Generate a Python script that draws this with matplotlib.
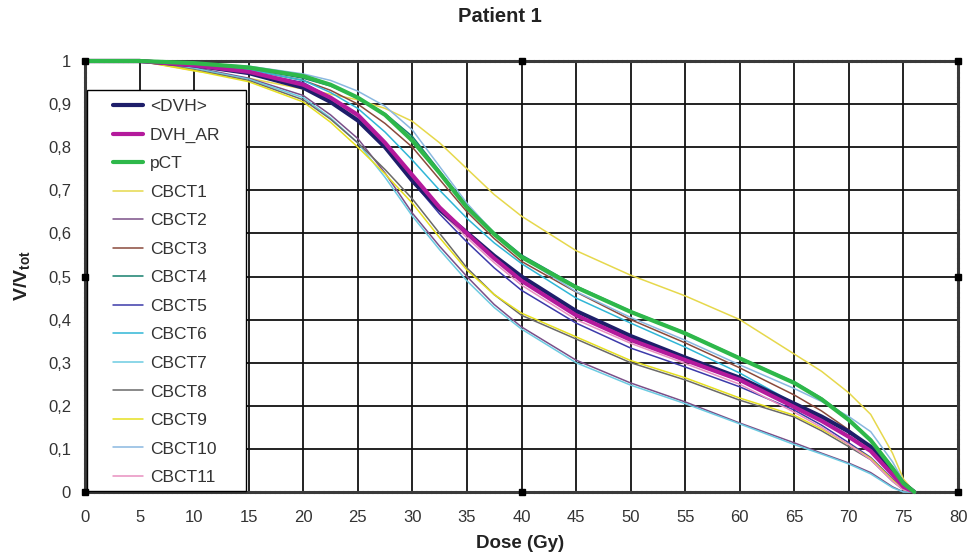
import matplotlib
matplotlib.use("Agg")
import matplotlib.pyplot as plt
from matplotlib.patches import Rectangle

plt.rcParams['font.family'] = ['Liberation Sans', 'DejaVu Sans']
plt.rcParams['mathtext.fontset'] = 'custom'
plt.rcParams['mathtext.bf'] = 'Liberation Sans:bold'
plt.rcParams['mathtext.rm'] = 'Liberation Sans'

dose = [0, 5, 10, 15, 20, 22.5, 25, 27.5, 30, 32.5, 35, 37.5, 40, 45, 50, 55,
        60, 65, 67.5, 70, 72, 74, 75, 76]

series_names = ['<DVH>', 'DVH_AR', 'pCT', 'CBCT1', 'CBCT2', 'CBCT3', 'CBCT4',
                'CBCT5', 'CBCT6', 'CBCT7', 'CBCT8', 'CBCT9', 'CBCT10', 'CBCT11']

dvh_mean = [1, 1, 0.990, 0.972, 0.938, 0.905, 0.862, 0.800, 0.722, 0.655, 0.602, 0.548, 0.500, 0.420, 0.362, 0.312, 0.265, 0.205, 0.175, 0.140, 0.105, 0.050, 0.020, 0]
dvh_ar   = [1, 1, 0.990, 0.975, 0.945, 0.915, 0.875, 0.810, 0.735, 0.660, 0.600, 0.542, 0.490, 0.410, 0.353, 0.306, 0.260, 0.197, 0.165, 0.128, 0.095, 0.040, 0.012, 0]
pct      = [1, 1, 0.995, 0.985, 0.965, 0.945, 0.915, 0.875, 0.815, 0.740, 0.660, 0.598, 0.545, 0.475, 0.418, 0.368, 0.310, 0.253, 0.215, 0.167, 0.120, 0.055, 0.020, 0]
cbct1    = [1, 1, 0.977, 0.960, 0.935, 0.923, 0.910, 0.890, 0.860, 0.810, 0.750, 0.690, 0.640, 0.560, 0.503, 0.455, 0.400, 0.320, 0.280, 0.230, 0.180, 0.090, 0.030, 0]
cbct2    = [1, 1, 0.985, 0.960, 0.920, 0.875, 0.820, 0.740, 0.647, 0.570, 0.500, 0.435, 0.383, 0.306, 0.253, 0.209, 0.160, 0.114, 0.090, 0.067, 0.045, 0.012, 0, 0]
cbct3    = [1, 1, 0.990, 0.980, 0.955, 0.932, 0.900, 0.855, 0.800, 0.725, 0.650, 0.588, 0.535, 0.464, 0.400, 0.346, 0.288, 0.225, 0.188, 0.144, 0.100, 0.040, 0.012, 0]
cbct4    = [1, 1, 0.993, 0.983, 0.960, 0.942, 0.915, 0.878, 0.825, 0.745, 0.665, 0.602, 0.550, 0.478, 0.420, 0.370, 0.312, 0.255, 0.218, 0.170, 0.122, 0.058, 0.020, 0]
cbct5    = [1, 1, 0.990, 0.975, 0.950, 0.915, 0.870, 0.800, 0.720, 0.645, 0.580, 0.520, 0.468, 0.392, 0.334, 0.290, 0.244, 0.190, 0.155, 0.114, 0.080, 0.030, 0.008, 0]
cbct6    = [1, 1, 0.990, 0.980, 0.955, 0.927, 0.890, 0.835, 0.770, 0.700, 0.635, 0.578, 0.530, 0.450, 0.392, 0.336, 0.276, 0.206, 0.170, 0.130, 0.095, 0.040, 0.012, 0]
cbct7    = [1, 1, 0.983, 0.958, 0.915, 0.868, 0.810, 0.730, 0.640, 0.562, 0.490, 0.428, 0.378, 0.300, 0.248, 0.205, 0.158, 0.110, 0.088, 0.065, 0.042, 0.010, 0, 0]
cbct8    = [1, 1, 0.980, 0.955, 0.910, 0.865, 0.810, 0.748, 0.680, 0.600, 0.520, 0.458, 0.410, 0.355, 0.300, 0.260, 0.213, 0.174, 0.142, 0.105, 0.075, 0.025, 0.005, 0]
cbct9    = [1, 1, 0.978, 0.952, 0.905, 0.858, 0.800, 0.738, 0.670, 0.590, 0.515, 0.458, 0.415, 0.360, 0.305, 0.265, 0.218, 0.178, 0.146, 0.110, 0.078, 0.028, 0.006, 0]
cbct10   = [1, 1, 0.995, 0.988, 0.970, 0.955, 0.930, 0.895, 0.840, 0.755, 0.670, 0.600, 0.545, 0.465, 0.405, 0.352, 0.295, 0.240, 0.210, 0.175, 0.140, 0.070, 0.025, 0]
cbct11   = [1, 1, 0.988, 0.970, 0.940, 0.908, 0.870, 0.800, 0.725, 0.652, 0.590, 0.532, 0.480, 0.400, 0.345, 0.298, 0.250, 0.185, 0.150, 0.110, 0.075, 0.025, 0.005, 0]

series_values = [dvh_mean, dvh_ar, pct, cbct1, cbct2, cbct3, cbct4,
                 cbct5, cbct6, cbct7, cbct8, cbct9, cbct10, cbct11]

colors = ['#1e1e6a', '#b41a9c', '#2eb84a', '#e6d84c', '#7a4f88', '#8a4a3c',
          '#16806e', '#3c3aaa', '#30b6d6', '#6ccbe2', '#6a6a6a', '#e6e020',
          '#8ab8e0', '#e890c0']
widths = [3.0, 3.0, 3.0] + [1.1] * 11

x_ticks = [0, 5, 10, 15, 20, 25, 30, 35, 40, 45, 50, 55, 60, 65, 70, 75, 80]
x_tick_labels = ['0', '5', '10', '15', '20', '25', '30', '35', '40', '45',
                 '50', '55', '60', '65', '70', '75', '80']
y_ticks = [0, 0.1, 0.2, 0.3, 0.4, 0.5, 0.6, 0.7, 0.8, 0.9, 1.0]
y_tick_labels = ['0', '0,1', '0,2', '0,3', '0,4', '0,5', '0,6', '0,7', '0,8', '0,9', '1']

fig = plt.figure(figsize=(9.7, 5.53), dpi=100)
ax = fig.add_axes([85 / 970, 1 - 492 / 553, 873 / 970, 431 / 553])

ax.set_xlim(0, 80)
ax.set_ylim(0, 1)
ax.set_xticks(x_ticks)
ax.set_xticklabels(x_tick_labels)
ax.set_yticks(y_ticks)
ax.set_yticklabels(y_tick_labels)
ax.tick_params(length=0, labelsize=12, labelcolor='#333333')
ax.tick_params(axis='x', pad=13)
ax.tick_params(axis='y', pad=10)
ax.grid(True, color='#111111', linewidth=1.3)
ax.set_axisbelow(True)

for sp in ax.spines.values():
    sp.set_linestyle((0, (1, 0.6)))
    sp.set_linewidth(2.2)
    sp.set_color('#3a3a3a')

order = list(range(3, 14)) + [0, 1, 2]
handles = {}
for i in order:
    ln, = ax.plot(dose, series_values[i], color=colors[i], linewidth=widths[i],
                  label=series_names[i], zorder=3 if i > 2 else 4,
                  solid_capstyle='round', solid_joinstyle='round', clip_on=False)
    handles[i] = ln

xl = ax.get_xlim()
yl = ax.get_ylim()
xm = [xl[0], (xl[0] + xl[1]) / 2, xl[1]]
ym = [yl[0], (yl[0] + yl[1]) / 2, yl[1]]
for xv in xm:
    for yv in ym:
        if xv == xm[1] and yv == ym[1]:
            continue
        ax.plot([xv], [yv], marker='s', markersize=4.5, color='black',
                clip_on=False, zorder=6)

rect = Rectangle((2 / 873, 1 / 431), 159 / 873, 401 / 431, transform=ax.transAxes,
                 facecolor='white', edgecolor='black', linewidth=1.0, zorder=5,
                 clip_on=False)
ax.add_patch(rect)
leg = ax.legend([handles[i] for i in range(14)], series_names,
                loc='upper left', bbox_to_anchor=(28 / 873, (492 - 99) / 431),
                frameon=False, borderpad=0, borderaxespad=0,
                handlelength=1.72, handletextpad=0.4, labelspacing=0.77,
                prop={'size': 12.5})
for t in leg.get_texts():
    t.set_color('#333333')
leg.set_zorder(7)

fig.text(500 / 970, 1 - 17 / 553, 'Patient 1', ha='center', va='center',
         fontsize=14.5, fontweight='bold', color='#222222')
fig.text(520 / 970, 1 - 544 / 553, 'Dose (Gy)', ha='center', va='center',
         fontsize=13.5, fontweight='bold', color='#222222')
fig.text(22 / 970, 1 - 276 / 553, r'$\mathbf{V/V_{tot}}$', ha='center', va='center',
         rotation=90, fontsize=14, color='#222222')

fig.savefig('out.png', dpi=100)
